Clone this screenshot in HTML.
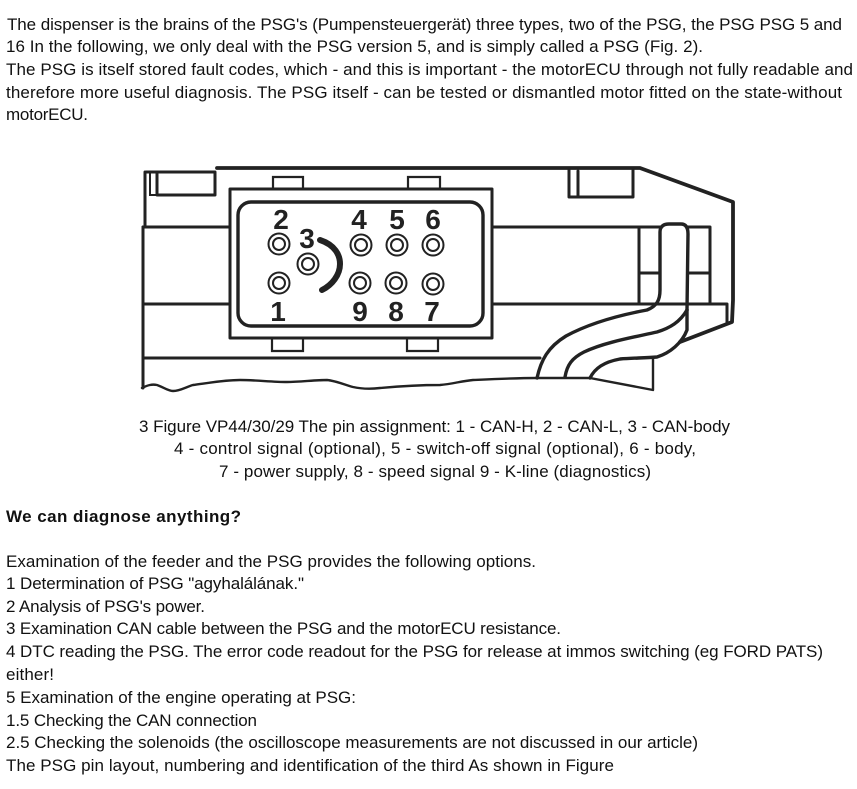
<!DOCTYPE html>
<html>
<head>
<meta charset="utf-8">
<style>
html,body{margin:0;padding:0;background:#fff;}
svg{display:block;}
.t{font-family:"Liberation Sans",sans-serif;font-size:17px;fill:#111;}
.b{font-weight:bold;}
.n{font-family:"Liberation Sans",sans-serif;font-size:28px;font-weight:bold;fill:#222;text-anchor:middle;}
.l{fill:none;stroke:#222;stroke-width:3;stroke-linejoin:round;stroke-linecap:round;}
.m{fill:none;stroke:#222;stroke-width:2;}
.p{fill:#fff;stroke:#222;stroke-width:2;}
</style>
</head>
<body>
<svg width="857" height="789" viewBox="0 0 857 789" xmlns="http://www.w3.org/2000/svg">
<rect width="857" height="789" fill="#fff"/>
<text class="t" x="7" y="30" textLength="835" lengthAdjust="spacing">The dispenser is the brains of the PSG's (Pumpensteuergerät) three types, two of the PSG, the PSG PSG 5 and</text>
<text class="t" x="6" y="52" textLength="697" lengthAdjust="spacing">16 In the following, we only deal with the PSG version 5, and is simply called a PSG (Fig. 2).</text>
<text class="t" x="6" y="75" textLength="847" lengthAdjust="spacing">The PSG is itself stored fault codes, which - and this is important - the motorECU through not fully readable and</text>
<text class="t" x="6" y="98" textLength="836" lengthAdjust="spacing">therefore more useful diagnosis. The PSG itself - can be tested or dismantled motor fitted on the state-without</text>
<text class="t" x="6" y="120" textLength="82" lengthAdjust="spacing">motorECU.</text>

<g>
<path class="l" style="stroke-width:3.8" d="M217 168 H640 L733 202 V300 L732 322 L680 342"/>
<path class="l" d="M146 172 H215 V195 H157 M157 173 V195 M145 172 V227 M143 227 V388"/>
<path class="m" d="M150 173 V195 H157"/>
<path class="l" d="M143 227 H230 M143 304 H230 M143 358 H540"/>
<path class="l" style="stroke-width:2.4" d="M142 388 C148 385 152 384 157 385 C163 387 168 391 173 391 C180 391 186 387 193 385 C208 383 225 380 240 380 C256 380 272 382 287 382 C300 382 315 380 327 380 C337 381 345 385 353 387 C362 389 372 389 380 388 C402 386 420 385 440 385 C452 384 462 381 473 380 C495 379 515 378 537 378 H590 L653 390 V358"/>
<path class="l" d="M230 189 H492 V338 H230 Z"/>
<rect class="l" x="238" y="202" width="245" height="124" rx="13" ry="13" style="stroke-width:3.4"/>
<path class="m" style="stroke-width:2.2" d="M273 188 V177 H303 V188 M408 188 V177 H440 V188 M272 339 V351 H303 V339 M407 339 V351 H438 V339"/>
<path class="l" d="M633 170 V197 H569 V170 M578 171 V197"/>
<path class="l" d="M492 227 H660 M688 227 H710 V304 M492 304 H727 V323"/>
<path class="l" d="M639 227 V304 M639 273 H660 M688 273 H710"/>
<path class="l" style="stroke-width:3.4" d="M537 378 C541 360 548 347 566 336 C590 323 620 315 647 310 C657 306 660 300 660 290 L660 232 C660 226 664 224 669 224 H681 C686 224 688 228 688 234 L687 310"/>
<path class="l" style="stroke-width:3.4" d="M565 377 C567 365 572 358 584 352 C605 342 635 337 657 332 C670 328 680 322 687 310"/>
<path class="l" style="stroke-width:3.4" d="M590 378 C595 368 604 362 620 359 C632 358 645 358 657 357 C670 353 682 343 687 330 L687 310"/>

<g class="p">
<circle cx="279" cy="244" r="10.5"/><circle cx="279" cy="244" r="6"/>
<circle cx="279" cy="283" r="10.5"/><circle cx="279" cy="283" r="6"/>
<circle cx="308" cy="264" r="10.5"/><circle cx="308" cy="264" r="6"/>
<circle cx="361" cy="245" r="10.5"/><circle cx="361" cy="245" r="6"/>
<circle cx="397" cy="245" r="10.5"/><circle cx="397" cy="245" r="6"/>
<circle cx="433" cy="245" r="10.5"/><circle cx="433" cy="245" r="6"/>
<circle cx="360" cy="283" r="10.5"/><circle cx="360" cy="283" r="6"/>
<circle cx="396" cy="283" r="10.5"/><circle cx="396" cy="283" r="6"/>
<circle cx="433" cy="284" r="10.5"/><circle cx="433" cy="284" r="6"/>
</g>
<path d="M320 240 C335 245 340 255 340 264 C340 275 332 285 322 290" fill="none" stroke="#222" stroke-width="6" stroke-linecap="round"/>
<text class="n" x="281" y="229">2</text>
<text class="n" x="307" y="248">3</text>
<text class="n" x="359" y="229">4</text>
<text class="n" x="397" y="229">5</text>
<text class="n" x="433" y="229">6</text>
<text class="n" x="278" y="321">1</text>
<text class="n" x="360" y="321">9</text>
<text class="n" x="396" y="321">8</text>
<text class="n" x="432" y="321">7</text>
</g>

<text class="t" x="139" y="432" textLength="591" lengthAdjust="spacing">3 Figure VP44/30/29 The pin assignment: 1 - CAN-H, 2 - CAN-L, 3 - CAN-body</text>
<text class="t" x="174" y="454" textLength="522" lengthAdjust="spacing">4 - control signal (optional), 5 - switch-off signal (optional), 6 - body,</text>
<text class="t" x="219" y="477" textLength="432" lengthAdjust="spacing">7 - power supply, 8 - speed signal 9 - K-line (diagnostics)</text>
<text class="t b" x="6" y="522" textLength="235" lengthAdjust="spacing">We can diagnose anything?</text>
<text class="t" x="6" y="567" textLength="530" lengthAdjust="spacing">Examination of the feeder and the PSG provides the following options.</text>
<text class="t" x="6" y="589" textLength="298" lengthAdjust="spacing">1 Determination of PSG "agyhalálának."</text>
<text class="t" x="6" y="612" textLength="199" lengthAdjust="spacing">2 Analysis of PSG's power.</text>
<text class="t" x="6" y="634" textLength="555" lengthAdjust="spacing">3 Examination CAN cable between the PSG and the motorECU resistance.</text>
<text class="t" x="6" y="657" textLength="817" lengthAdjust="spacing">4 DTC reading the PSG. The error code readout for the PSG for release at immos switching (eg FORD PATS)</text>
<text class="t" x="6" y="680" textLength="48" lengthAdjust="spacing">either!</text>
<text class="t" x="6" y="703" textLength="350" lengthAdjust="spacing">5 Examination of the engine operating at PSG:</text>
<text class="t" x="6" y="726" textLength="251" lengthAdjust="spacing">1.5 Checking the CAN connection</text>
<text class="t" x="6" y="748" textLength="692" lengthAdjust="spacing">2.5 Checking the solenoids (the oscilloscope measurements are not discussed in our article)</text>
<text class="t" x="6" y="771" textLength="608" lengthAdjust="spacing">The PSG pin layout, numbering and identification of the third As shown in Figure</text>
</svg>
</body>
</html>
